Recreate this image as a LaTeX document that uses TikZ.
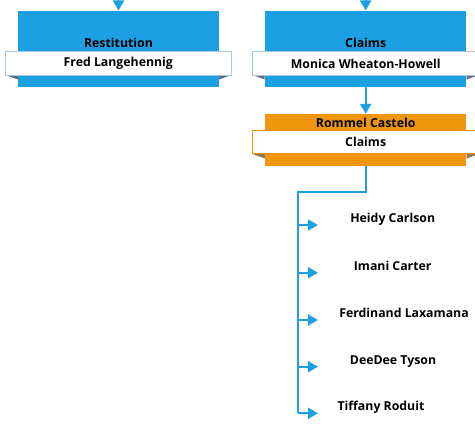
\documentclass[tikz,border=0pt]{standalone}
\usepackage{fontspec}
\setmainfont{Open Sans}
\usetikzlibrary{arrows.meta}
\definecolor{unitblue}{RGB}{29,160,226}
\definecolor{leadorange}{RGB}{240,150,14}
\definecolor{foldshade}{RGB}{96,110,122}
\definecolor{foldbrown}{RGB}{150,120,80}
\definecolor{bannerline}{RGB}{170,200,220}
\tikzset{
  unitbox/.style={fill=unitblue, draw=none, minimum width=201pt, minimum height=76pt, inner sep=0pt},
  leadbox/.style={fill=leadorange, draw=none, minimum width=201pt, minimum height=52pt, inner sep=0pt},
  banner/.style={fill=white, draw=#1, line width=0.6pt, minimum width=226pt, minimum height=23.5pt, inner sep=0pt, font=\bfseries\fontsize{12.3}{14}\selectfont},
  title/.style={inner sep=0pt, font=\bfseries\fontsize{12.3}{14}\selectfont},
  member/.style={inner sep=0pt, font=\bfseries\fontsize{12.3}{14}\selectfont},
  link/.style={draw=unitblue, line width=1.8pt, -{Triangle[length=10pt,width=11pt]}},
  wire/.style={draw=unitblue, line width=1.8pt},
}
\begin{document}
\begin{tikzpicture}[x=1pt,y=-1pt]
\useasboundingbox (0,0) rectangle (475,425);

% Restitution unit
\node[unitbox] (rbox) at (118.5,48.7) {};
\node[title] (rtitle) at (118.5,43) {Restitution};
\fill[foldshade] (5.3,75) -- (18,75) -- (18,79.5) -- cycle;
\fill[foldshade] (231.5,75) -- (219,75) -- (219,79.5) -- cycle;
\node[banner=bannerline] (rname) at (118.3,63.4) {Fred Langehennig};

% Claims unit
\node[unitbox] (cbox) at (365.7,48.7) {};
\node[title] (ctitle) at (365.7,43) {Claims};
\fill[foldshade] (252.5,75) -- (264.7,75) -- (264.7,79.5) -- cycle;
\fill[foldshade] (479,75) -- (466.7,75) -- (466.7,79.5) -- cycle;
\node[banner=bannerline] (cname) at (365.7,63.4) {Monica Wheaton-Howell};

% incoming links from above
\coordinate (rin) at (118.5,-20);
\coordinate (cin) at (365.7,-20);
\draw[link] (rin) -- (rbox.north);
\draw[link] (cin) -- (cbox.north);

% Claims lead
\node[leadbox] (lbox) at (365.7,140) {};
\node[title] (ltitle) at (365.7,123) {Rommel Castelo};
\fill[foldbrown] (252.5,154) -- (265,154) -- (265,158.5) -- cycle;
\fill[foldbrown] (479,154) -- (466.5,154) -- (466.5,158.5) -- cycle;
\node[banner=leadorange] (lname) at (365.7,142) {Claims};

\draw[link] (cbox.south) -- (lbox.north);

% team members
\node[member] (m1) at (392.7,219) {Heidy Carlson};
\node[member] (m2) at (392.7,266) {Imani Carter};
\node[member] (m3) at (404,313) {Ferdinand Laxamana};
\node[member] (m4) at (393,361.7) {DeeDee Tyson};
\node[member] (m5) at (381,407.7) {Tiffany Roduit};

\coordinate (turn) at (365.7,191.7);
\coordinate (spine) at (298.3,191.7);
\coordinate (s1) at (298.3,225);
\coordinate (s2) at (298.3,272.7);
\coordinate (s3) at (298.3,320);
\coordinate (s4) at (298.3,366.7);
\coordinate (s5) at (298.3,413.3);
\coordinate (t1) at (318,225);
\coordinate (t2) at (318,272.7);
\coordinate (t3) at (318,320);
\coordinate (t4) at (318,366.7);
\coordinate (t5) at (318,413.3);

\draw[wire, line join=miter] (lbox.south) -- (turn) -- (spine) -- (s5);
\foreach \i in {1,...,5}
  \draw[link] (s\i) -- (t\i);
\end{tikzpicture}
\end{document}
